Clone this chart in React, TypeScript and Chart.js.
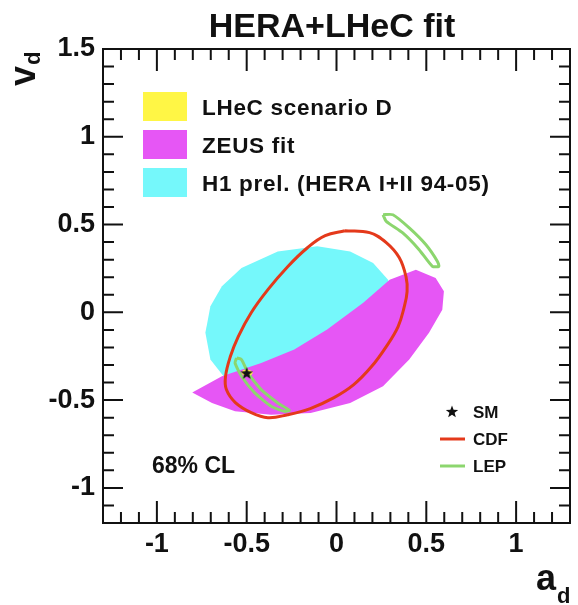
import React, { useEffect, useRef } from "react";
import { Chart, registerables } from "chart.js";

Chart.register(...registerables);

// ---- axes ----
const xTicks = [-1, -0.5, 0, 0.5, 1];
const yTicks = [-1, -0.5, 0, 0.5, 1, 1.5];
const xMin = -1.3;
const xMax = 1.3;
const yMin = -1.2;
const yMax = 1.5;
const minorStep = 0.1;

// ---- H1 prel. (HERA I+II 94-05) 68% CL contour ----
const h1A = [-0.629, -0.702, -0.73, -0.702, -0.638, -0.529, -0.327, -0.107, 0.076, 0.204, 0.287, 0.332, 0.223, -0.052, -0.327, -0.547];
const h1V = [-0.364, -0.269, -0.117, 0.034, 0.148, 0.253, 0.347, 0.376, 0.347, 0.281, 0.186, 0.072, -0.155, -0.326, -0.412, -0.412];

// ---- ZEUS fit contour ----
const zeusA = [-0.803, -0.638, -0.419, -0.235, -0.052, 0.149, 0.296, 0.442, 0.552, 0.598, 0.589, 0.515, 0.405, 0.259, 0.076, -0.144, -0.364, -0.565, -0.693];
const zeusV = [-0.456, -0.364, -0.288, -0.212, -0.098, 0.054, 0.186, 0.243, 0.196, 0.12, 0.015, -0.117, -0.269, -0.421, -0.516, -0.573, -0.583, -0.564, -0.516];

// ---- CDF contour ----
const cdfA = [0.047, 0.184, 0.277, 0.349, 0.387, 0.393, 0.376, 0.343, 0.277, 0.195, 0.096, -0.014, -0.146, -0.272, -0.382, -0.475, -0.563, -0.613, -0.618, -0.591, -0.547, -0.475, -0.382, -0.272, -0.162, -0.063];
const cdfV = [0.465, 0.454, 0.397, 0.312, 0.203, 0.118, 0.027, -0.081, -0.195, -0.309, -0.412, -0.486, -0.548, -0.583, -0.6, -0.571, -0.514, -0.44, -0.366, -0.252, -0.138, -0.002, 0.129, 0.26, 0.368, 0.437];

// ---- LEP contours (two bands) ----
const lep1A = [0.259, 0.314, 0.405, 0.497, 0.562, 0.57, 0.534, 0.46, 0.369, 0.277];
const lep1V = [0.556, 0.556, 0.481, 0.386, 0.29, 0.262, 0.262, 0.357, 0.452, 0.518];
const lep2A = [-0.556, -0.529, -0.492, -0.419, -0.327, -0.263, -0.29, -0.364, -0.455, -0.529, -0.565];
const lep2V = [-0.26, -0.269, -0.345, -0.44, -0.516, -0.558, -0.564, -0.535, -0.459, -0.364, -0.288];

// ---- LHeC scenario D contour ----
const lhecA = [-0.53, -0.52, -0.497, -0.475, -0.465, -0.475, -0.497, -0.52];
const lhecV = [-0.344, -0.33, -0.326, -0.333, -0.344, -0.357, -0.362, -0.357];

// ---- Standard Model point ----
const smA = [-0.5];
const smV = [-0.346];

// ---- texts ----
const titleText = "HERA+LHeC fit";
const fillLegend = ["LHeC scenario D", "ZEUS fit", "H1 prel. (HERA I+II 94-05)"];
const lineLegend = ["SM", "CDF", "LEP"];
const clText = "68% CL";

const CYAN = "#75F8FB";
const MAGENTA = "#E656F5";
const YELLOW = "#FFF645";
const RED = "#E4391B";
const GREEN = "#8CD66E";
const INK = "#111111";
const FAMILY = "'Liberation Sans', Arial, Helvetica, sans-serif";

function starPath(ctx: CanvasRenderingContext2D, cx: number, cy: number, r: number) {
  ctx.beginPath();
  for (let i = 0; i < 10; i++) {
    const rad = i % 2 === 0 ? r : r * 0.42;
    const ang = -Math.PI / 2 + (i * Math.PI) / 5;
    const px = cx + rad * Math.cos(ang);
    const py = cy + rad * Math.sin(ang);
    if (i === 0) ctx.moveTo(px, py);
    else ctx.lineTo(px, py);
  }
  ctx.closePath();
}

function makeStar(): HTMLCanvasElement {
  const c = document.createElement("canvas");
  c.width = 14;
  c.height = 14;
  const ctx = c.getContext("2d")!;
  ctx.fillStyle = INK;
  starPath(ctx, 7, 7.5, 6.5);
  ctx.fill();
  return c;
}

const overlay = {
  id: "overlay",
  afterDraw(chart: any) {
    const ctx: CanvasRenderingContext2D = chart.ctx;
    const { left, right, top, bottom } = chart.chartArea;
    const xs = chart.scales.x;
    const ys = chart.scales.y;
    ctx.save();
    ctx.strokeStyle = INK;
    ctx.lineWidth = 2;
    // frame
    ctx.strokeRect(left, top, right - left, bottom - top);
    // ticks
    const major = 22;
    const minor = 11;
    const eps = 1e-6;
    for (let k = Math.ceil(xMin / minorStep - eps); k <= Math.floor(xMax / minorStep + eps); k++) {
      const v = k * minorStep;
      const px = xs.getPixelForValue(v);
      if (px <= left + 1 || px >= right - 1) continue;
      const len = xTicks.some((t) => Math.abs(t - v) < eps) ? major : minor;
      ctx.beginPath();
      ctx.moveTo(px, bottom);
      ctx.lineTo(px, bottom - len);
      ctx.moveTo(px, top);
      ctx.lineTo(px, top + len);
      ctx.stroke();
    }
    for (let k = Math.ceil(yMin / minorStep - eps); k <= Math.floor(yMax / minorStep + eps); k++) {
      const v = k * minorStep;
      const py = ys.getPixelForValue(v);
      if (py <= top + 1 || py >= bottom - 1) continue;
      const len = yTicks.some((t) => Math.abs(t - v) < eps) ? major - 2 : minor;
      ctx.beginPath();
      ctx.moveTo(left, py);
      ctx.lineTo(left + len, py);
      ctx.moveTo(right, py);
      ctx.lineTo(right - len, py);
      ctx.stroke();
    }

    ctx.fillStyle = INK;
    // title
    ctx.font = `bold 34px ${FAMILY}`;
    ctx.textAlign = "center";
    ctx.textBaseline = "alphabetic";
    ctx.fillText(titleText, 332, 37);

    // x axis title a_d
    ctx.textAlign = "left";
    ctx.font = `bold 36px ${FAMILY}`;
    ctx.fillText("a", 536, 590);
    ctx.font = `bold 22px ${FAMILY}`;
    ctx.fillText("d", 557, 603);

    // y axis title v_d (rotated)
    ctx.save();
    ctx.translate(35, 86);
    ctx.rotate(-Math.PI / 2);
    ctx.font = `bold 36px ${FAMILY}`;
    ctx.fillText("v", 0, 0);
    const vw = ctx.measureText("v").width;
    ctx.font = `bold 22px ${FAMILY}`;
    ctx.fillText("d", vw + 1, 5);
    ctx.restore();

    // fill legend
    const boxColors = [YELLOW, MAGENTA, CYAN];
    const boxTops = [92, 130, 168];
    ctx.font = `bold 22.5px ${FAMILY}`;
    (ctx as any).letterSpacing = "0.7px";
    ctx.textBaseline = "middle";
    fillLegend.forEach((t, i) => {
      ctx.fillStyle = boxColors[i];
      ctx.fillRect(143, boxTops[i], 44, 29);
      ctx.fillStyle = INK;
      ctx.fillText(t, 202, boxTops[i] + 16.5);
    });
    (ctx as any).letterSpacing = "0px";

    // CL text
    ctx.font = `bold 23px ${FAMILY}`;
    ctx.textBaseline = "alphabetic";
    ctx.fillText(clText, 152, 473);

    // line legend
    ctx.font = `bold 17px ${FAMILY}`;
    ctx.textBaseline = "middle";
    const rowY = [412, 439, 466];
    starPath(ctx, 452, rowY[0], 6.5);
    ctx.fillStyle = INK;
    ctx.fill();
    ctx.lineWidth = 3;
    ctx.strokeStyle = RED;
    ctx.beginPath();
    ctx.moveTo(440, rowY[1]);
    ctx.lineTo(465, rowY[1]);
    ctx.stroke();
    ctx.strokeStyle = GREEN;
    ctx.beginPath();
    ctx.moveTo(440, rowY[2]);
    ctx.lineTo(465, rowY[2]);
    ctx.stroke();
    ctx.fillStyle = INK;
    lineLegend.forEach((t, i) => ctx.fillText(t, 473, rowY[i] + 1));
    ctx.restore();
  },
};

function closed(a: number[], v: number[]) {
  const pts = a.map((x, i) => ({ x, y: v[i] }));
  pts.push({ ...pts[0] });
  return pts;
}

export default function App() {
  const ref = useRef<HTMLCanvasElement>(null);
  useEffect(() => {
    const canvas = ref.current!;
    const star = makeStar();
    const tickFont = { family: FAMILY, size: 27, weight: "bold" as const };
    const chart = new Chart(canvas, {
      type: "scatter",
      data: {
        datasets: [
          {
            label: "H1 prel. (HERA I+II 94-05)",
            data: closed(h1A, h1V),
            showLine: true,
            fill: "shape",
            backgroundColor: CYAN,
            borderColor: "rgba(0,0,0,0)",
            borderWidth: 0,
            pointRadius: 0,
            order: 6,
          },
          {
            label: "ZEUS fit",
            data: closed(zeusA, zeusV),
            showLine: true,
            fill: "shape",
            backgroundColor: MAGENTA,
            borderColor: "rgba(0,0,0,0)",
            borderWidth: 0,
            pointRadius: 0,
            order: 5,
          },
          {
            label: "CDF",
            data: closed(cdfA, cdfV),
            showLine: true,
            fill: false,
            borderColor: RED,
            borderWidth: 3,
            tension: 0.4,
            pointRadius: 0,
            order: 4,
          },
          {
            label: "LEP",
            data: closed(lep1A, lep1V),
            showLine: true,
            fill: false,
            borderColor: GREEN,
            borderWidth: 3,
            tension: 0.2,
            pointRadius: 0,
            order: 3,
          },
          {
            label: "LEP ",
            data: closed(lep2A, lep2V),
            showLine: true,
            fill: false,
            borderColor: GREEN,
            borderWidth: 3,
            tension: 0.2,
            pointRadius: 0,
            order: 2,
          },
          {
            label: "LHeC scenario D",
            data: closed(lhecA, lhecV),
            showLine: true,
            fill: "shape",
            backgroundColor: YELLOW,
            borderColor: "rgba(0,0,0,0)",
            borderWidth: 0,
            pointRadius: 0,
            order: 1,
          },
          {
            label: "SM",
            data: smA.map((x, i) => ({ x, y: smV[i] })),
            showLine: false,
            pointStyle: star as any,
            pointRadius: 7,
            order: 0,
          },
        ],
      },
      options: {
        responsive: false,
        animation: false,
        events: [],
        layout: { padding: { top: 49, right: -2, left: 0, bottom: 0 } },
        plugins: {
          legend: { display: false },
          tooltip: { enabled: false },
          title: { display: false },
        },
        scales: {
          x: {
            type: "linear",
            min: xMin,
            max: xMax,
            grid: { display: false, drawTicks: false },
            border: { display: false },
            ticks: {
              font: tickFont,
              color: INK,
              padding: 5,
              maxRotation: 0,
              autoSkip: false,
              callback: (v: any) => String(v),
            },
            afterBuildTicks: (s: any) => {
              s.ticks = xTicks.map((value) => ({ value }));
            },
            afterFit: (s: any) => {
              s.height = 82;
              s.paddingLeft = 0;
              s.paddingRight = 0;
            },
          },
          y: {
            type: "linear",
            min: yMin,
            max: yMax,
            grid: { display: false, drawTicks: false },
            border: { display: false },
            ticks: {
              font: tickFont,
              color: INK,
              padding: 8,
              autoSkip: false,
              callback: (v: any) => String(v),
            },
            afterBuildTicks: (s: any) => {
              s.ticks = yTicks.map((value) => ({ value }));
            },
            afterFit: (s: any) => {
              s.width = 103;
              s.paddingTop = 0;
              s.paddingBottom = 0;
            },
          },
        },
      },
      plugins: [overlay],
    });
    return () => chart.destroy();
  }, []);
  return (
    <div style={{ position: "absolute", left: 0, top: 0, width: 578, height: 605, background: "#fff" }}>
      <canvas ref={ref} width={578} height={605} style={{ display: "block" }} />
    </div>
  );
}
